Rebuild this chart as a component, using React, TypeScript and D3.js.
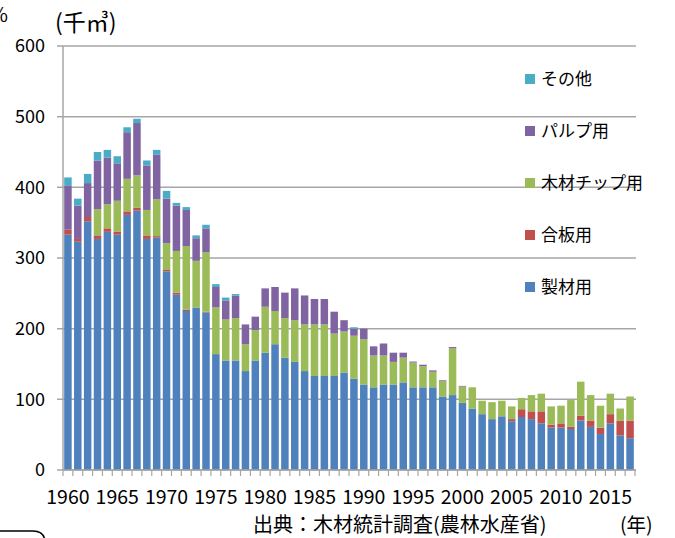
import React from "react";
import * as d3 from "d3";

const years = d3.range(1960, 2018).map(String);

// 製材用
const sawn = [333, 323, 352, 327, 337, 333, 361, 367, 327, 329,
  281, 248, 225, 230, 223, 164, 155, 155, 140, 155,
  166, 178, 159, 153, 140, 133, 133, 133, 138, 129,
  121, 117, 121, 121, 124, 117, 117, 117, 104, 106,
  95, 87, 79, 72, 76, 69, 75, 72, 66, 60,
  60, 58, 70, 61, 51, 66, 49, 45];
// 合板用
const plywood = [7, 4, 6, 5, 5, 4, 5, 4, 5, 2,
  2, 3, 2, 0, 1, 0, 0, 0, 0, 0,
  0, 0, 0, 0, 0, 0, 0, 0, 0, 0,
  0, 0, 0, 0, 0, 0, 0, 0, 0, 0,
  0, 0, 0, 0, 0, 3, 11, 11, 17, 4,
  6, 3, 7, 9, 9, 13, 21, 25];
// 木材チップ用
const chip = [0, 0, 0, 37, 34, 44, 46, 46, 36, 52,
  38, 59, 90, 66, 84, 66, 58, 60, 38, 43,
  65, 47, 56, 59, 66, 73, 73, 60, 58, 61,
  64, 45, 41, 32, 35, 35, 30, 22, 22, 66,
  23, 30, 19, 24, 22, 18, 16, 23, 25, 26,
  25, 38, 48, 36, 31, 29, 17, 34];
// パルプ用
const pulp = [62, 47, 48, 69, 66, 53, 66, 74, 63, 63,
  63, 64, 51, 32, 34, 29, 27, 32, 28, 19,
  26, 34, 36, 45, 41, 36, 36, 31, 16, 10,
  15, 13, 17, 13, 7, 1.5, 2, 2, 1, 2,
  1, 0, 0, 0, 0, 0, 0, 0, 0, 0,
  0, 0, 0, 0, 0, 0, 0, 0];
// その他
const other = [12, 10, 13, 12, 11, 10, 7, 6, 7, 7,
  11, 4, 4, 4, 5, 4, 4, 2, 0, 0,
  0, 0, 0, 0, 0, 0, 0, 0, 0, 2,
  0, 0, 0, 0, 0, 0, 0, 0, 0, 0,
  0, 0, 0, 0, 0, 0, 0, 0, 0, 0,
  0, 0, 0, 0, 0, 0, 0, 0];

const seriesNames = ["製材用", "合板用", "木材チップ用", "パルプ用", "その他"];
const seriesColors = ["#4F81BD", "#C0504D", "#9BBB59", "#8064A2", "#4BACC6"];
const yTicks = [0, 100, 200, 300, 400, 500, 600];
const xLabelYears = ["1960", "1965", "1970", "1975", "1980", "1985", "1990", "1995", "2000", "2005", "2010", "2015"];

const font = "'Noto Sans CJK JP', 'Noto Sans', sans-serif";

export default function App() {
  const width = 675;
  const height = 538;
  const left = 63;
  const right = 635;
  const top = 46;
  const bottom = 470;

  const rows = years.map((y, i) => ({
    year: y, s0: sawn[i], s1: plywood[i], s2: chip[i], s3: pulp[i], s4: other[i],
  }));
  const keys = ["s0", "s1", "s2", "s3", "s4"];
  const stacked = d3.stack<any>().keys(keys)(rows);

  const x = d3.scaleBand().domain(years).range([left, right]).paddingInner(0.24).paddingOuter(0.12);
  const y = d3.scaleLinear().domain([0, 600]).range([bottom, top]);
  const step = x.step();
  const x0 = left;

  return (
    <svg width={width} height={height} style={{ position: "absolute", left: 0, top: 0, background: "#fff" }}
      fontFamily={font}>
      {/* gridlines */}
      {yTicks.map((t) => (
        <line key={t} x1={left - 6} x2={right + 1} y1={y(t)} y2={y(t)} stroke="#a6a6a6" strokeWidth={1.5} />
      ))}
      {/* y axis */}
      <line x1={left} x2={left} y1={top} y2={bottom} stroke="#a6a6a6" strokeWidth={1.5} />
      {yTicks.map((t) => (
        <text key={"yl" + t} x={45} y={y(t)} dy="0.36em" textAnchor="end" fontSize={18} fill="#000">{t}</text>
      ))}
      {/* x tick marks at band boundaries */}
      {d3.range(years.length + 1).map((i) => (
        <line key={"xt" + i} x1={x0 + i * step} x2={x0 + i * step} y1={bottom} y2={bottom + 6}
          stroke="#a6a6a6" strokeWidth={1.2} />
      ))}
      {/* bars */}
      {stacked.map((layer, li) => (
        <g key={li} fill={seriesColors[li]}>
          {layer.map((d: any, i: number) =>
            d[1] - d[0] > 0 ? (
              <rect key={i} x={x(d.data.year)} width={x.bandwidth()} y={y(d[1])}
                height={y(d[0]) - y(d[1])} />
            ) : null
          )}
        </g>
      ))}
      <line x1={left} x2={right + 1} y1={bottom} y2={bottom} stroke="#a6a6a6" strokeWidth={1.5} />
      {/* x labels */}
      {xLabelYears.map((yr) => (
        <text key={"xl" + yr} x={(x(yr) as number) + x.bandwidth() / 2} y={504} textAnchor="middle"
          fontSize={19.5} fill="#000">{yr}</text>
      ))}
      {/* unit */}
      <text x={55} y={31} fontSize={23} fill="#000">(千㎥)</text>
      <text x={8} y={22} textAnchor="end" fontSize={20} fill="#000">%</text>
      {/* legend */}
      {[4, 3, 2, 1, 0].map((si, k) => (
        <g key={"lg" + si} transform={`translate(525, ${79 + k * 52})`}>
          <rect x={0} y={-5} width={10} height={10} fill={seriesColors[si]} />
          <text x={16} y={0} dy="0.36em" fontSize={17} fill="#000">{seriesNames[si]}</text>
        </g>
      ))}
      {/* source */}
      <text x={253} y={532} fontSize={20} fill="#000">出典：木材統計調査(農林水産省)</text>
      <text x={620} y={532} fontSize={19.5} fill="#000">(年)</text>
      {/* fragment of a box at bottom left */}
      <path d="M -10 531 L 33 531 Q 45 531 45 543" fill="none" stroke="#000" strokeWidth={1.5} />
    </svg>
  );
}
